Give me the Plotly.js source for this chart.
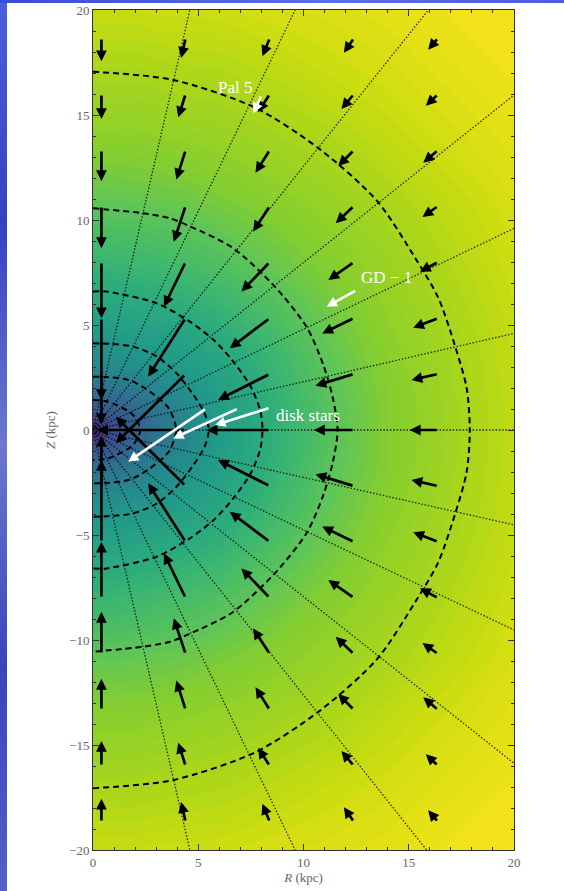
<!DOCTYPE html>
<html><head><meta charset="utf-8">
<script src="https://cdn.plot.ly/plotly-3.0.1.min.js"></script>
<style>
html,body{margin:0;padding:0;width:564px;height:891px;overflow:hidden;background:#fff;}
#stripL{position:absolute;left:0;top:0;width:7px;height:891px;background:linear-gradient(180deg,#4b5ee0 0%,#3640c4 25%,#6b78cc 50%,#3a44bc 75%,#5560c8 100%);}
#stripT{position:absolute;left:0;top:0;width:564px;height:3px;background:linear-gradient(90deg,#3a4cd8 0%,#5a70e8 60%,#4a5ce0 100%);}
#chart{position:absolute;left:0;top:0;width:564px;height:891px;}
</style></head><body><div id="stripL"></div><div id="stripT"></div><div id="chart"></div>
<script>
// ---- potential map (relative colour level, 0 = centre, 1 = outer corner) ----
const gridR = [0, 0.5, 1, 2, 3, 4, 6, 8, 11, 14, 17, 20];
const gridZ = [-20, -17, -14, -11, -8, -6, -4, -3, -2, -1, -0.5, 0, 0.5, 1, 2, 3, 4, 6, 8, 11, 14, 17, 20];
const potential = [
  [0.925,0.925,0.925,0.925,0.93,0.93,0.935,0.945,0.955,0.97,0.99,1.00],
  [0.87,0.87,0.87,0.87,0.875,0.88,0.885,0.90,0.925,0.945,0.97,0.99],
  [0.82,0.82,0.82,0.82,0.825,0.83,0.84,0.855,0.88,0.915,0.945,0.97],
  [0.75,0.75,0.75,0.755,0.76,0.765,0.785,0.805,0.84,0.875,0.915,0.95],
  [0.66,0.66,0.665,0.67,0.68,0.69,0.715,0.75,0.80,0.845,0.89,0.935],
  [0.60,0.60,0.60,0.61,0.62,0.63,0.66,0.705,0.77,0.83,0.875,0.925],
  [0.51,0.51,0.515,0.53,0.54,0.56,0.61,0.66,0.745,0.815,0.865,0.915],
  [0.455,0.457,0.465,0.48,0.50,0.53,0.58,0.645,0.735,0.81,0.86,0.915],
  [0.37,0.37,0.38,0.405,0.45,0.48,0.56,0.63,0.73,0.80,0.86,0.91],
  [0.245,0.25,0.27,0.32,0.385,0.445,0.545,0.62,0.72,0.80,0.855,0.91],
  [0.16,0.18,0.22,0.29,0.37,0.43,0.54,0.62,0.72,0.80,0.855,0.91],
  [0.00,0.12,0.19,0.28,0.36,0.42,0.54,0.62,0.72,0.80,0.855,0.91],
  [0.16,0.18,0.22,0.29,0.37,0.43,0.54,0.62,0.72,0.80,0.855,0.91],
  [0.245,0.25,0.27,0.32,0.385,0.445,0.545,0.62,0.72,0.80,0.855,0.91],
  [0.37,0.37,0.38,0.405,0.45,0.48,0.56,0.63,0.73,0.80,0.86,0.91],
  [0.455,0.457,0.465,0.48,0.50,0.53,0.58,0.645,0.735,0.81,0.86,0.915],
  [0.51,0.51,0.515,0.53,0.54,0.56,0.61,0.66,0.745,0.815,0.865,0.915],
  [0.60,0.60,0.60,0.61,0.62,0.63,0.66,0.705,0.77,0.83,0.875,0.925],
  [0.66,0.66,0.665,0.67,0.68,0.69,0.715,0.75,0.80,0.845,0.89,0.935],
  [0.75,0.75,0.75,0.755,0.76,0.765,0.785,0.805,0.84,0.875,0.915,0.95],
  [0.82,0.82,0.82,0.82,0.825,0.83,0.84,0.855,0.88,0.915,0.945,0.97],
  [0.87,0.87,0.87,0.87,0.875,0.88,0.885,0.90,0.925,0.945,0.97,0.99],
  [0.925,0.925,0.925,0.925,0.93,0.93,0.935,0.945,0.955,0.97,0.99,1.00]
];

// ---- force-field arrows (tail positions and components, kpc) ----
const quiverR = [0.4, 4.4, 8.4, 12.4, 16.4];
const quiverZ = [18.67, 16, 13.33, 10.67, 8, 5.33, 2.67, 0, -2.67, -5.33, -8, -10.67, -13.33, -16, -18.67];
const quiverU = [
  [0, -0.21, -0.35, -0.48, -0.48],
  [0, -0.35, -0.56, -0.60, -0.59],
  [0, -0.44, -0.68, -0.75, -0.71],
  [0, -0.56, -0.79, -0.87, -0.75],
  [0, -1.03, -1.35, -1.22, -0.87],
  [0, -1.78, -1.90, -1.51, -1.19],
  [0, -3.32, -2.46, -1.83, -1.27],
  [0, -4.20, -3.00, -1.90, -1.35],
  [0, -3.32, -2.46, -1.83, -1.27],
  [0, -1.78, -1.90, -1.51, -1.19],
  [0, -1.03, -1.35, -1.22, -0.87],
  [0, -0.56, -0.79, -0.87, -0.75],
  [0, -0.44, -0.68, -0.75, -0.71],
  [0, -0.35, -0.56, -0.60, -0.59],
  [0, -0.21, -0.35, -0.48, -0.48]
];
const quiverV = [
  [-1.11, -0.95, -0.87, -0.71, -0.56],
  [-1.19, -1.11, -0.87, -0.71, -0.56],
  [-1.48, -1.40, -1.08, -0.76, -0.60],
  [-2.01, -1.70, -1.22, -0.82, -0.53],
  [-2.68, -2.13, -1.41, -0.86, -0.46],
  [-3.90, -2.79, -1.44, -0.73, -0.46],
  [-2.40, -3.30, -1.24, -0.56, -0.29],
  [0, 0, 0, 0, 0],
  [2.40, 3.30, 1.24, 0.56, 0.29],
  [3.90, 2.79, 1.44, 0.73, 0.46],
  [2.68, 2.13, 1.41, 0.86, 0.46],
  [2.01, 1.70, 1.22, 0.82, 0.53],
  [1.48, 1.40, 1.08, 0.76, 0.60],
  [1.19, 1.11, 0.87, 0.71, 0.56],
  [1.11, 0.95, 0.87, 0.71, 0.56]
];

// ---- field lines (dotted, from the centre to the frame) ----
const fieldEndR = [4.6, 9.6, 15.93, 20, 20, 20, 20, 20, 20, 20, 15.85, 9.6, 4.6];
const fieldEndZ = [20, 20, 20, 15.95, 9.6, 4.6, 0, -4.52, -9.52, -15.87, -20, -20, -20];

// ---- equipotential contours (dashed) ----
const equiR = [
  [0, 0.6, 1.12, 1.91, 2.25, 1.91, 1.12, 0.6, 0],
  [0, 0.65, 1.44, 1.91, 2.7, 3.6, 3.95, 3.6, 2.7, 1.91, 1.44, 0.65, 0],
  [0, 0.8, 1.91, 3.03, 3.97, 4.75, 5.3, 5.5, 5.3, 4.75, 3.97, 3.03, 1.91, 0.8, 0],
  [0, 0.65, 3.03, 4.6, 5.72, 6.67, 7.5, 7.95, 8.05, 7.95, 7.5, 6.67, 5.72, 4.6, 3.03, 0.65, 0],
  [0, 2.39, 3.66, 4.6, 6.6, 8.57, 10.15, 10.94, 11.4, 11.62, 11.4, 10.94, 10.15, 8.57, 6.6, 4.6, 3.66, 2.39, 0],
  [0, 3.8, 7.7, 10.8, 13.5, 15.3, 16.4, 17.2, 17.75, 17.9, 17.75, 17.2, 16.4, 15.3, 13.5, 10.8, 7.7, 3.8, 0]
];
const equiZ = [
  [1.43, 1.38, 1.19, 0.71, 0, -0.71, -1.19, -1.38, -1.43],
  [2.54, 2.52, 2.44, 2.3, 1.83, 1.03, 0, -1.03, -1.83, -2.3, -2.44, -2.52, -2.54],
  [4.13, 4.1, 3.97, 3.5, 2.7, 1.7, 0.8, 0, -0.8, -1.7, -2.7, -3.5, -3.97, -4.1, -4.13],
  [6.6, 6.59, 6.03, 5.16, 4.3, 3.25, 2.05, 0.9, 0, -0.9, -2.05, -3.25, -4.3, -5.16, -6.03, -6.59, -6.6],
  [10.56, 10.32, 10.08, 9.7, 8.7, 6.9, 4.9, 3.1, 1.5, 0, -1.5, -3.1, -4.9, -6.9, -8.7, -9.7, -10.08, -10.32, -10.56],
  [17.06, 16.67, 15.35, 13.35, 10.9, 8.2, 6.3, 4.0, 2.0, 0, -2.0, -4.0, -6.3, -8.2, -10.9, -13.35, -15.35, -16.67, -17.06]
];

// ---- highlighted objects (white arrows) ----
const objTailR = [8.01, 12.53, 5.39, 6.90, 8.41];
const objTailZ = [15.95, 6.67, 1.03, 1.03, 1.06];
const objTipR  = [7.62, 11.10, 1.67, 3.81, 5.80];
const objTipZ  = [15.08, 5.87, -1.51, -0.40, 0.24];
const objLabels = ['Pal 5', 'GD − 1', 'disk stars'];
const objLabelR = [6.75, 12.65, 8.6];
const objLabelZ = [16.3, 7.25, 0.7];
const objLabelAnchor = ['center', 'left', 'left'];

const tickValsX = [0, 5, 10, 15, 20];
const tickTextX = ['0', '5', '10', '15', '20'];
const tickValsY = [-20, -15, -10, -5, 0, 5, 10, 15, 20];
const tickTextY = ['−20', '−15', '−10', '−5', '0', '5', '10', '15', '20'];

// ---- build ----
const colours = [
  [0.00, '#440154'], [0.08, '#472878'], [0.18, '#3e4989'], [0.30, '#32658e'],
  [0.42, '#287f8e'], [0.52, '#21978a'], [0.62, '#2aab7f'], [0.68, '#40b86c'],
  [0.74, '#5ec45a'], [0.80, '#84ce30'], [0.87, '#a8d61c'], [0.925, '#c8dc10'],
  [1.00, '#f7e31a']
];

const traces = [];
traces.push({
  type: 'contour', x: gridR, y: gridZ, z: potential,
  colorscale: colours, zmin: 0, zmax: 1, showscale: false,
  autocontour: false,
  contours: {start: 0, end: 1, size: 0.0125, coloring: 'fill', showlines: false},
  line: {width: 0, smoothing: 1}, hoverinfo: 'skip'
});

const fx = [], fz = [];
for (let i = 0; i < fieldEndR.length; i++) { fx.push(0, fieldEndR[i], null); fz.push(0, fieldEndZ[i], null); }
traces.push({type: 'scatter', mode: 'lines', x: fx, y: fz,
  line: {color: 'rgba(0,0,0,0.8)', width: 1.3, dash: '1.5px,1.8px'}, hoverinfo: 'skip'});

for (let k = 0; k < equiR.length; k++) {
  traces.push({type: 'scatter', mode: 'lines', x: equiR[k], y: equiZ[k],
    line: {color: '#000', width: 2, dash: '6px,4px', shape: 'spline', smoothing: 0.8}, hoverinfo: 'skip'});
}

const annotations = [];
for (let i = 0; i < quiverZ.length; i++) {
  for (let j = 0; j < quiverR.length; j++) {
    const u = quiverU[i][j], v = quiverV[i][j];
    if (u === 0 && v === 0) continue;
    annotations.push({x: quiverR[j] + u, y: quiverZ[i] + v, ax: quiverR[j], ay: quiverZ[i],
      xref: 'x', yref: 'y', axref: 'x', ayref: 'y', text: '', showarrow: true,
      arrowhead: 2, arrowsize: 0.8, arrowwidth: 2.7, arrowcolor: '#000', standoff: 0});
  }
}
for (let i = 0; i < objTailR.length; i++) {
  annotations.push({x: objTipR[i], y: objTipZ[i], ax: objTailR[i], ay: objTailZ[i],
    xref: 'x', yref: 'y', axref: 'x', ayref: 'y', text: '', showarrow: true,
    arrowhead: 2, arrowsize: 0.8, arrowwidth: 2.6, arrowcolor: '#fff', standoff: 0});
}
for (let i = 0; i < objLabels.length; i++) {
  annotations.push({x: objLabelR[i], y: objLabelZ[i], xref: 'x', yref: 'y', text: objLabels[i],
    showarrow: false, xanchor: objLabelAnchor[i], yanchor: 'middle',
    font: {family: 'Liberation Serif, DejaVu Serif, serif', size: 17, color: '#fff'}});
}

const axisFont = {family: 'Liberation Serif, DejaVu Serif, serif', size: 13, color: '#666'};
const layout = {
  width: 564, height: 891,
  margin: {l: 93, r: 50, t: 10, b: 41},
  paper_bgcolor: 'rgba(0,0,0,0)', plot_bgcolor: '#fff', showlegend: false,
  xaxis: {range: [0, 20], tickvals: tickValsX, ticktext: tickTextX, ticks: 'inside', ticklen: 6,
    tickcolor: '#333', showline: true, linecolor: '#333', linewidth: 1, mirror: 'allticks',
    minor: {ticks: 'inside', ticklen: 3, dtick: 1, tickcolor: '#333'},
    showgrid: false, zeroline: false, tickfont: axisFont, ticklabeloverflow: 'allow',
    title: {text: '<i>R</i> (kpc)', font: axisFont, standoff: 2}},
  yaxis: {range: [-20, 20], tickvals: tickValsY, ticktext: tickTextY, ticks: 'inside', ticklen: 6,
    tickcolor: '#333', showline: true, linecolor: '#333', linewidth: 1, mirror: 'allticks',
    minor: {ticks: 'inside', ticklen: 3, dtick: 1, tickcolor: '#333'},
    showgrid: false, zeroline: false, tickfont: axisFont, ticklabeloverflow: 'allow',
    title: {text: '<i>Z</i> (kpc)', font: axisFont, standoff: 10}},
  annotations: annotations
};
Plotly.newPlot('chart', traces, layout, {displayModeBar: false, staticPlot: true});
</script></body></html>
